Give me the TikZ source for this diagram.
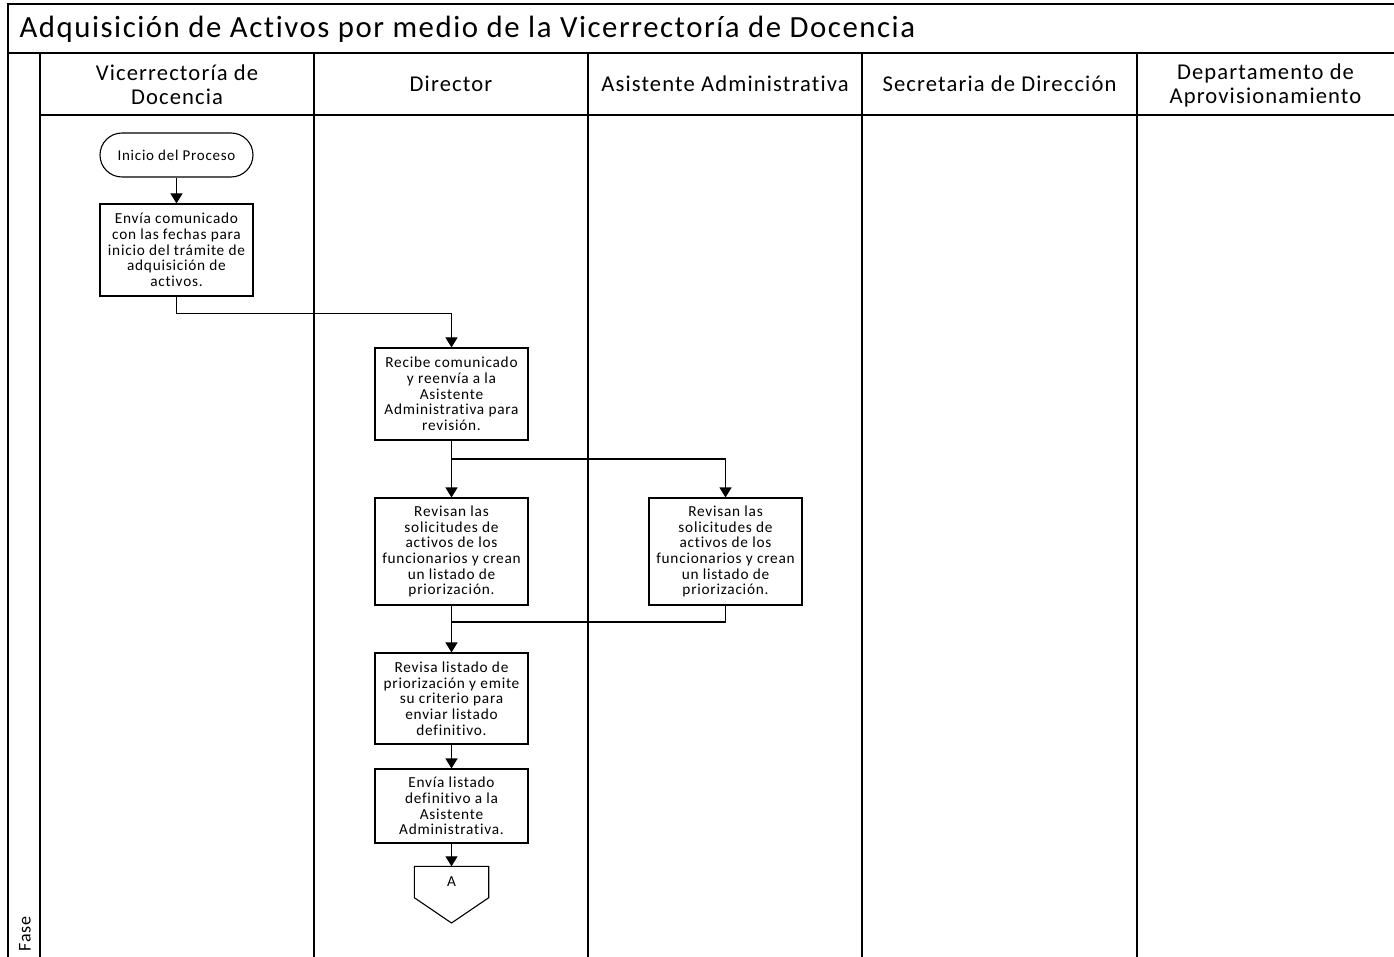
\documentclass[tikz,border=0pt]{standalone}
\usepackage{fontspec}
\setmainfont{Carlito}[LetterSpace=5,Ligatures=NoCommon]
\usetikzlibrary{arrows.meta}
\begin{document}
\begin{tikzpicture}[x=1pt,y=-1pt,
  frame/.style={line width=1.6pt,black},
  lanetitle/.style={font=\fontsize{22.6}{24}\selectfont,align=center,anchor=center},
  stepbox/.style={draw,line width=1.1pt,minimum width=153pt,inner sep=2pt,
    align=center,font=\fontsize{15.3}{15.7}\selectfont},
  terminal/.style={draw,line width=1.1pt,minimum width=153pt,minimum height=44pt,
    rounded corners=22pt,font=\fontsize{15}{15.7}\selectfont},
  flow/.style={line width=1.1pt,-{Triangle[width=12pt,length=10pt]}},
  link/.style={line width=1.1pt}]
\useasboundingbox (0,0) rectangle (1394,957);
% outer frame, title row and header row
\draw[frame] (8,957) -- (8,4) -- (1394,4);
\draw[frame] (8,53) -- (1394,53);
\draw[frame] (40,115) -- (1394,115);
\foreach \x in {40,314,588,862,1137}
  \draw[frame] (\x,53) -- (\x,957);
\node[anchor=west,font=\fontsize{30.8}{34}\selectfont] (title) at (16,29)
  {Adquisición de Activos por medio de la Vicerrectoría de Docencia};
\node[rotate=90,anchor=center,font=\fontsize{18}{20}\selectfont] (fase) at (25,934) {Fase};
% lane headers
\node[lanetitle] (h1) at (177,85) {Vicerrectoría de\\Docencia};
\node[lanetitle] (h2) at (451,84) {Director};
\node[lanetitle] (h3) at (725,84) {Asistente Administrativa};
\node[lanetitle] (h4) at (999.5,84) {Secretaria de Dirección};
\node[lanetitle] (h5) at (1265.5,85) {Departamento de\\Aprovisionamiento};
% process steps
\node[terminal] (start) at (176.5,155) {Inicio del Proceso};
\node[stepbox,minimum height=92pt] (b1) at (176.5,250)
  {Envía comunicado\\con las fechas para\\inicio del trámite de\\adquisición de\\activos.};
\node[stepbox,minimum height=92pt] (b2) at (451.5,394)
  {Recibe comunicado\\y reenvía a la\\Asistente\\Administrativa para\\revisión.};
\node[stepbox,minimum height=107pt] (b3) at (451.5,551.5)
  {Revisan las\\solicitudes de\\activos de los\\funcionarios y crean\\un listado de\\priorización.};
\node[stepbox,minimum height=107pt] (b4) at (725.5,551.5)
  {Revisan las\\solicitudes de\\activos de los\\funcionarios y crean\\un listado de\\priorización.};
\node[stepbox,minimum height=91pt] (b5) at (451.5,698.5)
  {Revisa listado de\\priorización y emite\\su criterio para\\enviar listado\\definitivo.};
\node[stepbox,minimum height=74pt] (b6) at (451.5,806)
  {Envía listado\\definitivo a la\\Asistente\\Administrativa.};
% off-page connector
\node[minimum width=74pt,minimum height=31pt,inner sep=0pt,
  font=\fontsize{15.3}{15.7}\selectfont] (offA) at (451.5,882) {A};
\coordinate (offtip) at (451.5,923);
\draw[line width=1.1pt] (offA.north west) -- (offA.north east) -- (offA.south east)
  -- (offtip) -- (offA.south west) -- cycle;
% connectors
\coordinate (j1) at (451.5,459);
\coordinate (j2) at (451.5,622);
\draw[flow] (start) -- (b1);
\draw[flow] (b1.south) -- ++(0,17) -| (b2.north);
\draw[flow] (b2) -- (b3);
\draw[flow] (j1) -| (b4.north);
\draw[link] (b4.south) |- (j2);
\draw[flow] (b3) -- (b5);
\draw[flow] (b5) -- (b6);
\draw[flow] (b6) -- (offA.north);
\end{tikzpicture}
\end{document}
